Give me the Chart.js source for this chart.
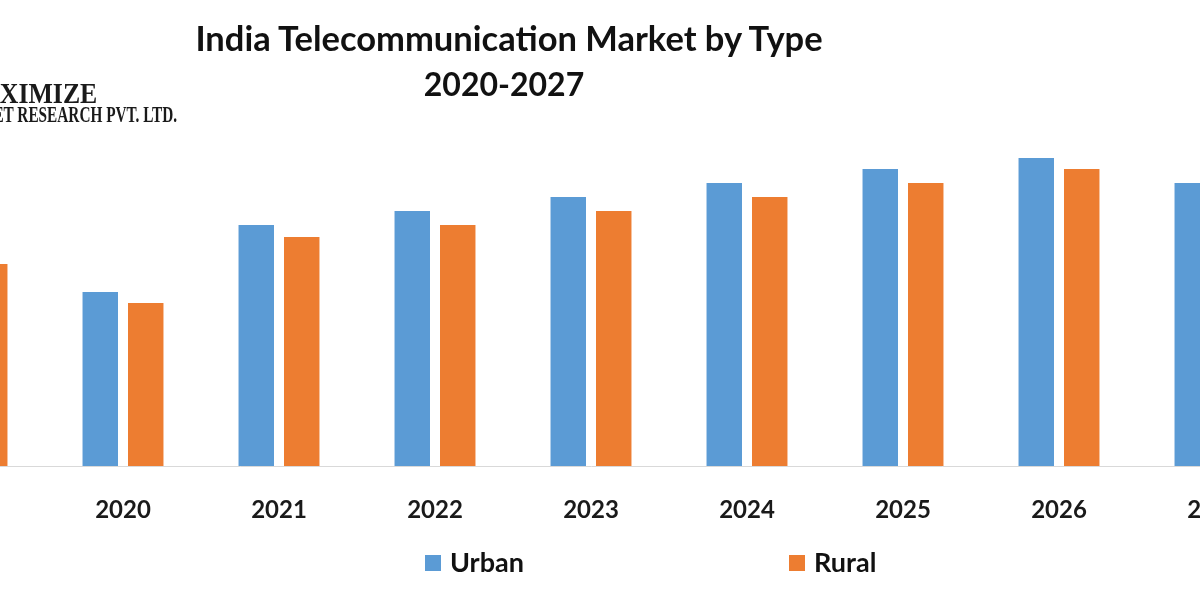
<!DOCTYPE html>
<html>
<head>
<meta charset="utf-8">
<script src="https://cdn.jsdelivr.net/npm/chart.js@4/dist/chart.umd.min.js"></script>
<style>
  html, body { margin:0; padding:0; background:#fff; }
  body { width:1200px; height:600px; overflow:hidden; position:relative; font-family: Lato, sans-serif; }
  #wrap { position:absolute; left:-111px; top:0; width:1404px; height:600px; }
  .t1 { position:absolute; left:109px; width:800px; top:18px; text-align:center;
        font-weight:bold; font-size:34.5px; line-height:40px; color:#111; white-space:nowrap; }
  .t2 { position:absolute; left:104px; width:800px; top:64px; text-align:center;
        font-weight:bold; font-size:32px; line-height:40px; color:#111; white-space:nowrap; }
  .logo1 { position:absolute; right:1103px; top:76px; white-space:nowrap;
           font-family:"Liberation Serif", serif; font-weight:bold; font-size:30px; line-height:34px;
           color:#1a1a1a; transform:scaleX(0.86); transform-origin:right center; }
  .logo2 { position:absolute; right:1023px; top:102px; white-space:nowrap;
           font-family:"Liberation Serif", serif; font-weight:bold; font-size:23px; line-height:26px;
           color:#1a1a1a; transform:scaleX(0.665); transform-origin:right center; }
  .leg { position:absolute; top:546px; font-weight:bold; font-size:27px; line-height:32px; color:#111; white-space:nowrap; }
  .sw { display:inline-block; width:16px; height:16px; margin-right:9px; vertical-align:middle; position:relative; top:-2px; }
</style>
</head>
<body>
<div id="wrap"><canvas id="c" width="1404" height="600"></canvas></div>
<div class="t1">India Telecommunication Market by Type</div>
<div class="t2">2020-2027</div>
<div class="logo1">MAXIMIZE</div>
<div class="logo2">MARKET RESEARCH PVT. LTD.</div>
<div class="leg" style="left:425px"><span class="sw" style="background:#5B9BD5"></span>Urban</div>
<div class="leg" style="left:789px"><span class="sw" style="background:#ED7D31"></span>Rural</div>
<script>
const categories = ['2019','2020','2021','2022','2023','2024','2025','2026','2027'];
const urbanValues = [21.5, 17.4, 24.1, 25.5, 26.9, 28.3, 29.7, 30.8, 28.3];
const ruralValues = [20.2, 16.3, 22.9, 24.1, 25.5, 26.9, 28.3, 29.7, 27.0];
const seriesNames = ['Urban', 'Rural'];
const seriesColors = ['#5B9BD5', '#ED7D31'];

function draw() {
  const ctx = document.getElementById('c').getContext('2d');
  new Chart(ctx, {
    type: 'bar',
    data: {
      labels: categories,
      datasets: [
        { label: seriesNames[0], data: urbanValues, backgroundColor: seriesColors[0], barPercentage: 0.78, categoryPercentage: 0.583 },
        { label: seriesNames[1], data: ruralValues, backgroundColor: seriesColors[1], barPercentage: 0.78, categoryPercentage: 0.583 }
      ]
    },
    options: {
      responsive: false,
      animation: false,
      devicePixelRatio: 1,
      layout: { padding: { top: 100, left: 0, right: 0, bottom: 0 } },
      plugins: { legend: { display: false }, title: { display: false }, tooltip: { enabled: false } },
      scales: {
        x: {
          grid: { display: false, drawTicks: false },
          border: { display: true, color: '#D9D9D9', width: 1 },
          ticks: { font: { family: 'Lato', weight: 'bold', size: 24 }, color: '#1a1a1a', padding: 30, maxRotation: 0, autoSkip: false },
          afterFit(s) { s.height = 134; }
        },
        y: { display: false, min: 0, max: 36.6 }
      }
    }
  });
}
if (document.fonts && document.fonts.load) {
  Promise.all([document.fonts.load('bold 24px Lato'), document.fonts.load('bold 32px "Liberation Serif"')]).then(draw, draw);
} else { draw(); }
</script>
</body>
</html>
